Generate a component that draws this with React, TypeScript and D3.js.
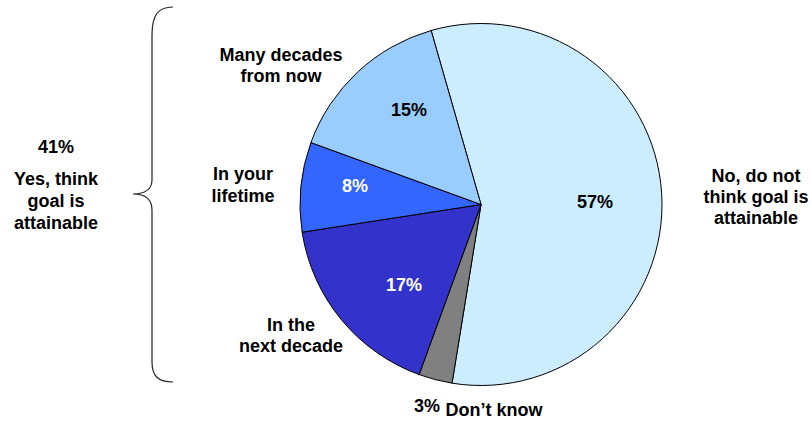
import React from "react";
import * as d3 from "d3";

const categories = ["No, do not think goal is attainable", "Don't know", "In the next decade", "In your lifetime", "Many decades from now"];
const values = [57, 3, 17, 8, 15];
const colors = ["#CCECFF", "#808080", "#3333CC", "#3366FF", "#99CCFF"];
const yesTotal = 41;

const W = 811;
const H = 421;
const cx = 481;
const cy = 204.5;
const R = 181;
const FONT = "'Liberation Sans', Arial, Helvetica, sans-serif";

export default function App() {
  const pie = d3
    .pie<number>()
    .sort(null)
    .value((d) => d)
    .startAngle((-16 * Math.PI) / 180)
    .endAngle((-16 * Math.PI) / 180 + 2 * Math.PI);
  const arcs = pie(values);
  const arc = d3.arc<d3.PieArcDatum<number>>().innerRadius(0).outerRadius(R);

  const textStyle: React.CSSProperties = { fontFamily: FONT, fontWeight: 700, fontSize: 18 };

  const brace = [
    "M173,7",
    "C158,7 152,15 152,35",
    "L152,180",
    "C152,189 145,194 133,194",
    "C145,194 152,199 152,210",
    "L152,362",
    "C152,376 158,382 173,382",
  ].join(" ");

  return (
    <svg width={W} height={H} style={{ position: "absolute", left: 0, top: 0, background: "#fff" }}>
      <g transform={`translate(${cx},${cy})`}>
        {arcs.map((a, i) => (
          <path key={categories[i]} d={arc(a) || ""} fill={colors[i]} stroke="#000" strokeWidth={1} strokeLinejoin="round" />
        ))}
      </g>
      <path d={brace} fill="none" stroke="#222" strokeWidth={1.2} />
      <g style={textStyle} textAnchor="middle" fill="#000">
        <text x={56} y={153}>{`${yesTotal}%`}</text>
        <text x={56} y={185}>Yes, think</text>
        <text x={56} y={207}>goal is</text>
        <text x={56} y={229}>attainable</text>

        <text x={281} y={61}>Many decades</text>
        <text x={281} y={82}>from now</text>
        <text x={409} y={116}>{`${values[4]}%`}</text>

        <text x={243} y={180}>In your</text>
        <text x={243} y={202}>lifetime</text>
        <text x={355} y={192} fill="#fff">{`${values[3]}%`}</text>

        <text x={404} y={291} fill="#fff">{`${values[2]}%`}</text>
        <text x={291} y={331}>In the</text>
        <text x={291} y={352}>next decade</text>

        <text x={427} y={412}>{`${values[1]}%`}</text>
        <text x={494} y={416}>Don’t know</text>

        <text x={595} y={208}>{`${values[0]}%`}</text>
        <text x={756} y={182}>No, do not</text>
        <text x={756} y={203}>think goal is</text>
        <text x={756} y={224}>attainable</text>
      </g>
    </svg>
  );
}
